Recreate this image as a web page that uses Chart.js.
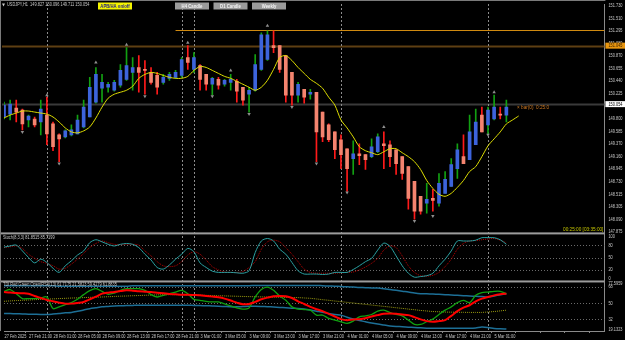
<!DOCTYPE html>
<html>
<head>
<meta charset="utf-8">
<script src="https://cdn.jsdelivr.net/npm/chart.js@4.4.1/dist/chart.umd.min.js"></script>
<style>
  html, body { margin: 0; padding: 0; background: #000; }
  #wrap { width: 625px; height: 340px; }
</style>
</head>
<body>
<div id="wrap"><canvas id="chart"></canvas></div>
<script>
// USDJPY H1, Heiken Ashi style candles
const open = [149.829,149.879,149.981,149.947,149.778,149.795,149.744,149.862,149.711,149.525,
  149.491,149.525,149.542,149.660,149.829,150.082,150.318,150.335,150.284,150.369,
  150.470,150.588,150.672,150.639,150.588,150.537,150.419,150.487,150.504,150.537,
  150.841,150.639,150.706,150.554,150.386,150.470,150.386,150.419,150.436,150.335,
  150.217,150.284,150.639,150.807,151.044,151.044,150.875,150.588,150.200,150.301,
  150.217,150.250,149.913,149.694,149.575,149.441,149.289,149.120,149.204,149.188,
  149.154,149.238,149.373,149.356,149.272,149.154,148.985,148.732,148.479,148.361,
  148.445,148.361,148.530,148.648,148.951,149.154,149.103,149.356,149.862,149.694,
  149.795,149.879,149.862];
const high = [150.082,150.116,150.116,149.964,149.862,149.829,150.116,150.166,149.744,149.542,
  149.609,149.694,149.862,150.116,150.504,150.672,150.554,150.419,150.453,150.723,
  151.010,150.841,150.875,150.790,150.672,150.588,150.554,150.588,150.622,150.841,
  151.044,150.925,150.723,150.554,150.504,150.504,150.470,150.554,150.470,150.335,
  150.335,150.892,151.263,151.297,151.297,151.044,150.875,150.588,150.419,150.301,
  150.301,150.250,149.913,149.711,149.575,149.525,149.289,149.424,149.373,149.188,
  149.457,149.542,149.575,149.424,149.272,149.154,148.985,148.732,148.479,148.698,
  148.597,148.867,148.901,149.120,149.373,149.525,149.862,149.964,149.997,149.997,
  150.200,149.997,150.116];
const low = [149.795,149.778,149.744,149.609,149.660,149.660,149.525,149.356,149.255,149.069,
  149.474,149.508,149.542,149.643,149.829,150.065,150.082,150.250,150.267,150.335,
  150.453,150.284,150.250,150.217,150.386,150.217,150.386,150.453,150.487,150.504,
  150.639,150.588,150.284,150.284,150.200,150.301,150.352,150.284,150.082,150.031,
  149.913,150.267,150.622,150.790,150.925,150.588,150.082,150.031,150.082,150.065,
  150.132,149.069,149.407,149.407,149.120,148.951,148.563,148.850,149.019,148.935,
  149.137,149.221,148.951,148.985,148.850,148.766,148.260,148.091,148.175,148.192,
  148.226,148.310,148.530,148.648,148.783,149.036,149.103,149.356,149.575,149.542,
  149.778,149.795,149.744];
const close = [150.031,150.048,149.913,149.711,149.846,149.694,149.964,149.542,149.323,149.457,
  149.592,149.609,149.778,149.997,150.335,150.554,150.419,150.386,150.419,150.622,
  150.706,150.672,150.588,150.622,150.419,150.335,150.504,150.554,150.588,150.807,
  150.757,150.841,150.470,150.386,150.487,150.369,150.453,150.470,150.267,150.116,
  150.284,150.723,151.229,151.229,151.010,150.639,150.200,150.200,150.386,150.166,
  150.250,149.575,149.491,149.441,149.272,149.188,148.951,149.204,149.171,149.103,
  149.323,149.491,149.339,149.154,149.036,148.867,148.445,148.226,148.226,148.428,
  148.411,148.698,148.766,149.019,149.272,149.036,149.575,149.744,149.575,149.947,
  149.997,149.862,149.997];

// yellow moving average (shifted 2 bars forward)
const maLine = [149.812,149.862,149.896,149.930,149.930,149.913,149.896,149.879,149.829,149.744,
  149.643,149.575,149.559,149.592,149.660,149.812,149.997,150.149,150.217,150.250,
  150.284,150.352,150.487,150.554,150.588,150.571,150.537,150.504,150.487,150.487,
  150.520,150.622,150.689,150.672,150.622,150.571,150.520,150.487,150.436,150.386,
  150.335,150.284,150.335,150.453,150.639,150.841,150.875,150.790,150.672,150.571,
  150.470,150.402,150.318,150.166,150.031,149.778,149.643,149.491,149.323,149.255,
  149.221,149.188,149.238,149.289,149.289,149.221,149.154,149.069,148.935,148.749,
  148.614,148.513,148.479,148.530,148.631,148.749,148.901,148.985,149.154,149.339,
  149.457,149.575,149.711,149.778,149.846];

// fractals
const fractalUpIdx = [7, 15, 20, 30, 37, 43, 62, 80];
const fractalUpPrice = [150.200, 150.757, 151.060, 151.094, 150.622, 151.381, 149.660, 150.250];
const fractalDnIdx = [3, 9, 23, 34, 40, 47, 51, 56, 67, 70, 79];
const fractalDnPrice = [149.575, 149.036, 150.183, 150.183, 149.879, 149.997, 149.036, 148.546, 148.057, 148.142, 149.525];

// Stochastic (8,3,3)
const stochMain = [75,78,80,66,50,37,46,38,24,14,
  30,42,56,66,86,93,88,82,78,82,
  84,82,74,58,44,26,22,32,46,58,
  72,64,37,26,17,14,14,14,13,12,
  18,62,90,96,90,70,58,38,18,10,
  10,10,9,10,14,14,14,21,30,40,
  48,68,85,77,54,30,12,2.5,4,6,
  12,30,46,66,90,90,90,92,98,98,
  98,93,82];
const stochSignal = [74,76,78,72,58,48,40,36,30,22,
  24,34,46,60,74,84,90,86,82,81,
  82,82,80,66,54,40,30,28,30,40,
  56,64,58,44,28,20,15,14,14,16,
  26,40,70,88,92,88,74,58,40,22,
  14,12,12,12,12,13,14,15,20,27,
  36,48,68,78,74,54,30,14,6,5,
  7,14,28,46,70,84,90,91,93,95,
  96,92,86];

// TDI
const tdiGreen = [63.1,65.3,60.7,55.2,55.2,55.2,55.9,57,44.1,46,
  48.5,50.7,54.4,59.6,64,66.2,63.3,60,61.4,64.4,
  66.2,66.2,66.2,64.4,59.6,57,58.8,60.7,62.5,64.4,
  60.7,54.4,53.3,52.2,51.5,51.5,49.2,47.1,44.9,43.4,
  44.9,57,65.3,68,64.4,58.1,53.3,46,43.4,43,
  42.3,36.8,36.8,33.1,31.2,29.4,27.6,30.1,34.9,36,
  37.5,41.2,42.3,39.7,37.5,36,31.2,26.4,26.4,29.4,
  32.3,37.5,42.3,46,50.7,53.3,50.7,58.8,61.8,62.5,
  63.3,63.3,60.7];
const tdiRed = [62.5,62.1,61.4,61.1,60.7,58.1,55.9,53.7,52.2,50.7,
  49.6,49.6,50.4,51.5,54.4,57.4,60.7,61.8,62.5,63.6,
  64.4,64,63.3,62.9,62.5,61.8,61.1,60.3,60,59.6,
  59.6,59.2,58.8,58.1,57.4,56.6,55.2,53,50.7,48.9,
  49.2,51.5,54.4,56.3,57.8,58.1,57.8,55.9,52.2,49.2,
  46,43.4,41.2,38.2,35.3,32.3,31.2,32,32.3,33.4,
  35.3,36.8,38.2,38.6,38.2,37.5,36.8,34.6,32,30.1,
  29.4,30.1,31.2,36,41.2,45.2,47.8,52.2,55.2,57,
  58.8,60,60.7];
const tdiUpper = [69.5,69.5,69.5,69.5,69.5,69.5,69.5,69.5,69.5,69,
  69,69,69,69,69,69,69,69,69,69,
  69,69.6,69.6,69.6,69.6,69.6,69.6,69.6,69.6,69.6,
  69.6,69.6,69.6,69.6,69.6,69.6,69.6,69.6,69.6,69.6,
  69.6,69.9,69.9,69.9,69.9,69.9,69.9,69.9,69.9,69.9,
  69.9,69.9,69.5,69.2,69,68.7,68.3,68,67.6,67.4,
  67.1,66.9,66.2,65.3,64.4,63.4,62.5,61.4,60.7,60.5,
  60.3,60,59.6,59.2,58.8,58.5,58.1,57.8,57.4,57,
  58.1,59.6,60.7];
const tdiLower = [38.6,38.5,38.3,38.1,37.9,37.7,37.5,37.5,38,38.6,
  39.3,39.7,41,42.5,44,45,46,46.5,47,47.2,
  47.4,47.6,47.8,47.8,47.8,47.8,47.8,47.8,47.8,47.8,
  47.8,47.6,47.4,47.2,47,46.8,46.4,46,46,46.3,
  46.6,46.7,46.5,46.2,45.8,45.4,45,44.5,44.1,43.5,
  42.5,41.2,40,38.5,37.5,36.8,34.5,32.5,30.8,29.4,
  28,26.8,25.8,24.8,24.2,23.9,23.4,23,22.6,22.3,
  22.1,22.1,22.1,22.1,22.1,22.1,22.1,22.5,23.5,23,
  22,21.5,21.3];
const tdiMid = [52.2,52.6,53,53.3,53.6,54,54.3,54.6,54.9,55.2,
  55.5,55.8,56,56.3,56.6,56.8,57,57.3,57.6,57.9,
  58.1,58.4,58.6,58.9,59.1,59.3,59.5,59.6,59.6,59.5,
  59.4,59.2,59,58.8,58.6,58.4,58.2,58,57.8,57.6,
  57.4,57.3,57.1,57,56.8,56.7,56.5,56.4,56.3,55.9,
  55.5,54.8,54,53.3,52.5,51.8,51,50.3,49.5,48.8,
  48,47.3,46.5,45.8,45,44.3,43.5,42.8,42,41.4,
  40.8,40.5,40.2,40.1,40,39.9,39.8,39.8,39.8,40.3,
  40.8,41.5,42.3];

// axis labels
const timeTicks = ['27 Feb 2025', '27 Feb 21:00', '28 Feb 01:00', '28 Feb 05:00', '28 Feb 09:00',
  '28 Feb 13:00', '28 Feb 17:00', '28 Feb 21:00', '3 Mar 01:00', '3 Mar 05:00', '3 Mar 09:00',
  '3 Mar 13:00', '3 Mar 17:00', '3 Mar 21:00', '4 Mar 01:00', '4 Mar 05:00', '4 Mar 09:00',
  '4 Mar 13:00', '4 Mar 17:00', '4 Mar 21:00', '5 Mar 01:00'];
const priceTicks = ['151.730', '151.510', '151.295', '151.080', '150.870', '150.655', '150.440',
  '150.225', '149.800', '149.585', '149.370', '149.160', '148.945', '148.730', '148.515',
  '148.305', '148.090', '147.875'];
const stochTicks = [0, 20, 50, 80, 100];
const tdiTickValues = [21, 32, 50, 68, 71.6];
const tdiTickLabels = ['19.1323', '32', '50', '68', '77.5959'];
const separatorBars = [7, 29, 31, 55, 79];

const bidPrice = 150.048;
const resistPrice = 151.303;
const levelPrice = 151.043;

const FONT = "'Liberation Sans', Arial, sans-serif";
const slots = 99;
const BLUE = '#3d64dc', SALMON = '#f4846f', GREEN = '#12a012', RED = '#ff1a1a';

const isUp = open.map((o, i) => close[i] >= o);
const bodyColors = isUp.map(u => (u ? BLUE : SALMON));
const wickColors = isUp.map(u => (u ? GREEN : RED));

const pointsAt = (idx, vals) => {
  const arr = new Array(open.length).fill(null);
  idx.forEach((k, j) => { arr[k] = vals[j]; });
  return arr;
};

const sideWidth = 20.6;
const fixWidth = (s) => { s.width = sideWidth; };

// narrow text, like the terminal's small font
function label(ctx, str, x, y, align, squeeze) {
  ctx.save();
  ctx.translate(x, y);
  ctx.scale(squeeze || 0.78, 1);
  ctx.textAlign = align || 'left';
  ctx.fillText(str, 0, 0);
  ctx.restore();
}

const terminal = {
  id: 'terminal',
  beforeDatasetsDraw(chart) {
    const { ctx, chartArea: a, scales } = chart;
    const { x, y, yS, yT } = scales;
    ctx.save();
    const hline = (price, fromX, color, w) => {
      const py = Math.round(y.getPixelForValue(price)) + 0.5;
      ctx.strokeStyle = color;
      ctx.lineWidth = w;
      ctx.beginPath();
      ctx.moveTo(fromX, py);
      ctx.lineTo(a.right, py);
      ctx.stroke();
    };
    hline(levelPrice, a.left - 2, '#5e3f12', 2);
    hline(bidPrice, a.left - 2, '#3a3a3a', 2);
    hline(resistPrice, x.getPixelForValue(28), '#d08a10', 1);

    ctx.setLineDash([1, 2]);
    ctx.strokeStyle = '#6a6a6a';
    ctx.lineWidth = 1;
    [20, 50, 80].forEach(v => {
      const py = Math.round(yS.getPixelForValue(v)) + 0.5;
      ctx.beginPath(); ctx.moveTo(a.left, py); ctx.lineTo(a.right, py); ctx.stroke();
    });
    [32, 50, 68].forEach(v => {
      const py = Math.round(yT.getPixelForValue(v)) + 0.5;
      ctx.beginPath(); ctx.moveTo(a.left, py); ctx.lineTo(a.right, py); ctx.stroke();
    });

    ctx.setLineDash([2, 2]);
    ctx.strokeStyle = '#8c8c8c';
    separatorBars.forEach(k => {
      const px = Math.round(x.getPixelForValue(k)) + 0.5;
      ctx.beginPath(); ctx.moveTo(px, a.top); ctx.lineTo(px, a.bottom); ctx.stroke();
    });
    ctx.restore();
  },
  afterDraw(chart) {
    const { ctx, chartArea: a, scales } = chart;
    const { x, y, yS, yT } = scales;
    ctx.save();
    ctx.fillStyle = '#9c9c9c';
    ctx.fillRect(0, y.bottom - 1, a.right, 2);
    ctx.fillRect(0, yS.bottom - 1, a.right, 2);
    ctx.fillStyle = '#7a7a7a';
    ctx.fillRect(0, 0, a.right + 1, 1);
    ctx.fillRect(0, 0, 1, a.bottom);

    ctx.textBaseline = 'middle';
    ctx.font = '5px ' + FONT;
    ctx.fillStyle = '#c8c8c8';

    // axis labels
    const lx = a.right + 4;
    priceTicks.forEach(t => label(ctx, t, lx, y.getPixelForValue(parseFloat(t))));
    stochTicks.forEach(v => label(ctx, String(v), lx, yS.getPixelForValue(v)));
    tdiTickValues.forEach((v, i) => label(ctx, tdiTickLabels[i], lx, yT.getPixelForValue(v)));
    timeTicks.forEach((t, k) => label(ctx, t, x.getPixelForValue(k * 4) + 0.5, a.bottom + 5.5));

    // price boxes on the axis
    const box = (price, text, bg, fg) => {
      const py = y.getPixelForValue(price);
      ctx.fillStyle = bg;
      ctx.fillRect(a.right + 1, py - 3, sideWidth - 1, 6);
      ctx.fillStyle = fg;
      label(ctx, text, a.right + 4, py + 0.3);
    };
    box(levelPrice, '151.045', '#e8960f', '#3a2000');
    box(bidPrice, '150.054', '#ffffff', '#000000');

    // titles
    ctx.fillStyle = '#c8c8c8';
    ctx.beginPath();
    ctx.moveTo(2, 3.5); ctx.lineTo(5, 3.5); ctx.lineTo(3.5, 6.5); ctx.closePath(); ctx.fill();
    label(ctx, 'USDJPY,H1  149.827 150.096 149.711 150.054', 7, 5);
    label(ctx, 'Stoch(8,3,3) 81.8515 85.7199', 3, yS.top + 4.5);
    label(ctx, 'TDI Red Green Open(RSI)(13) 61.7175 21.5823 59.4279 61.8835', 3, yS.bottom + 3.5);

    // chart buttons
    const button = (x0, w, text, bg, fg) => {
      ctx.fillStyle = bg;
      ctx.fillRect(x0, 2.5, w, 7);
      ctx.fillStyle = fg;
      label(ctx, text, x0 + w / 2, 6.2, 'center', 0.85);
    };
    ctx.font = 'bold 5px ' + FONT;
    button(98, 34, 'APB/HA on/off', '#f5f500', '#1a1a8a');
    button(175, 34, 'H4 Candle', '#9b9b9b', '#f4f4f4');
    button(213.5, 34, 'D1 Candle', '#9b9b9b', '#f4f4f4');
    button(252, 34, 'Weekly', '#9b9b9b', '#f4f4f4');

    // bar timer texts
    ctx.font = '5.5px ' + FONT;
    ctx.fillStyle = '#d07a22';
    label(ctx, '\u00d7 bar(0)  0:25:0', 517, y.getPixelForValue(149.997), 'left', 0.85);
    ctx.fillStyle = '#c8c800';
    label(ctx, '00:25:00 [03:35:00]', a.right - 1, y.bottom - 4, 'right', 0.85);
    ctx.restore();
  }
};

new Chart(document.getElementById('chart'), {
  type: 'bar',
  data: {
    labels: Array.from({ length: slots }, (_, i) => i),
    datasets: [
      {
        label: 'body',
        data: open.map((o, i) => [o, close[i]]),
        backgroundColor: bodyColors,
        barThickness: 3,
        minBarLength: 1,
        grouped: false,
        yAxisID: 'y',
        order: 2
      },
      {
        label: 'wick',
        data: low.map((l, i) => [l, high[i]]),
        backgroundColor: wickColors,
        barThickness: 1,
        grouped: false,
        yAxisID: 'y',
        order: 3
      },
      {
        type: 'line', label: 'MA', data: maLine, yAxisID: 'y',
        borderColor: '#dede00', borderWidth: 1, pointRadius: 0, tension: 0.25, order: 1
      },
      {
        type: 'line', label: 'fractal up', data: pointsAt(fractalUpIdx, fractalUpPrice), yAxisID: 'y',
        showLine: false, pointStyle: 'triangle', pointRadius: 2, borderWidth: 0,
        backgroundColor: '#8e8e8e', order: 0
      },
      {
        type: 'line', label: 'fractal down', data: pointsAt(fractalDnIdx, fractalDnPrice), yAxisID: 'y',
        showLine: false, pointStyle: 'triangle', rotation: 180, pointRadius: 2, borderWidth: 0,
        backgroundColor: '#8e8e8e', order: 0
      },
      {
        type: 'line', label: 'stoch signal', data: stochSignal, yAxisID: 'yS',
        borderColor: '#b80000', borderWidth: 1, borderDash: [1, 1], pointRadius: 0, tension: 0.3, order: 1
      },
      {
        type: 'line', label: 'stoch main', data: stochMain, yAxisID: 'yS',
        borderColor: '#2a9fa0', borderWidth: 1, pointRadius: 0, tension: 0.3, order: 0
      },
      {
        type: 'line', label: 'tdi upper', data: tdiUpper, yAxisID: 'yT',
        borderColor: '#1d6f96', borderWidth: 1.5, pointRadius: 0, tension: 0.3, order: 3
      },
      {
        type: 'line', label: 'tdi lower', data: tdiLower, yAxisID: 'yT',
        borderColor: '#1d6f96', borderWidth: 1.5, pointRadius: 0, tension: 0.3, order: 3
      },
      {
        type: 'line', label: 'tdi mid', data: tdiMid, yAxisID: 'yT',
        borderColor: '#9a9a10', borderWidth: 1, borderDash: [1, 1], pointRadius: 0, tension: 0.3, order: 3
      },
      {
        type: 'line', label: 'tdi green', data: tdiGreen, yAxisID: 'yT',
        borderColor: '#10a010', borderWidth: 1.3, pointRadius: 0, tension: 0.3, order: 1
      },
      {
        type: 'line', label: 'tdi red', data: tdiRed, yAxisID: 'yT',
        borderColor: '#ff0000', borderWidth: 2, pointRadius: 0, tension: 0.3, order: 0
      }
    ]
  },
  options: {
    responsive: true,
    maintainAspectRatio: false,
    animation: false,
    layout: { padding: { left: 1.7, top: 1, right: 0, bottom: 0 } },
    plugins: { legend: { display: false }, tooltip: { enabled: false } },
    scales: {
      x: {
        offset: false,
        afterFit: (s) => { s.height = 9; },
        grid: {
          drawOnChartArea: false, tickLength: 2,
          color: (c) => (c.index % 4 === 0 ? '#8a8a8a' : 'rgba(0,0,0,0)')
        },
        border: { color: '#8a8a8a' },
        ticks: { display: false, autoSkip: false }
      },
      y: {
        position: 'right', stack: 'panes', stackWeight: 231.5,
        min: 147.848, max: 151.752,
        afterFit: fixWidth,
        grid: { display: false },
        border: { color: '#8a8a8a' },
        ticks: { display: false }
      },
      yS: {
        position: 'right', stack: 'panes', stackWeight: 48.5,
        min: -7.9, max: 108.4,
        afterFit: fixWidth,
        grid: { display: false },
        border: { color: '#8a8a8a' },
        ticks: { display: false }
      },
      yT: {
        position: 'right', stack: 'panes', stackWeight: 50,
        min: 19.1, max: 74.3,
        afterFit: fixWidth,
        grid: { display: false },
        border: { color: '#8a8a8a' },
        ticks: { display: false }
      }
    }
  },
  plugins: [terminal]
});
</script>
</body>
</html>
